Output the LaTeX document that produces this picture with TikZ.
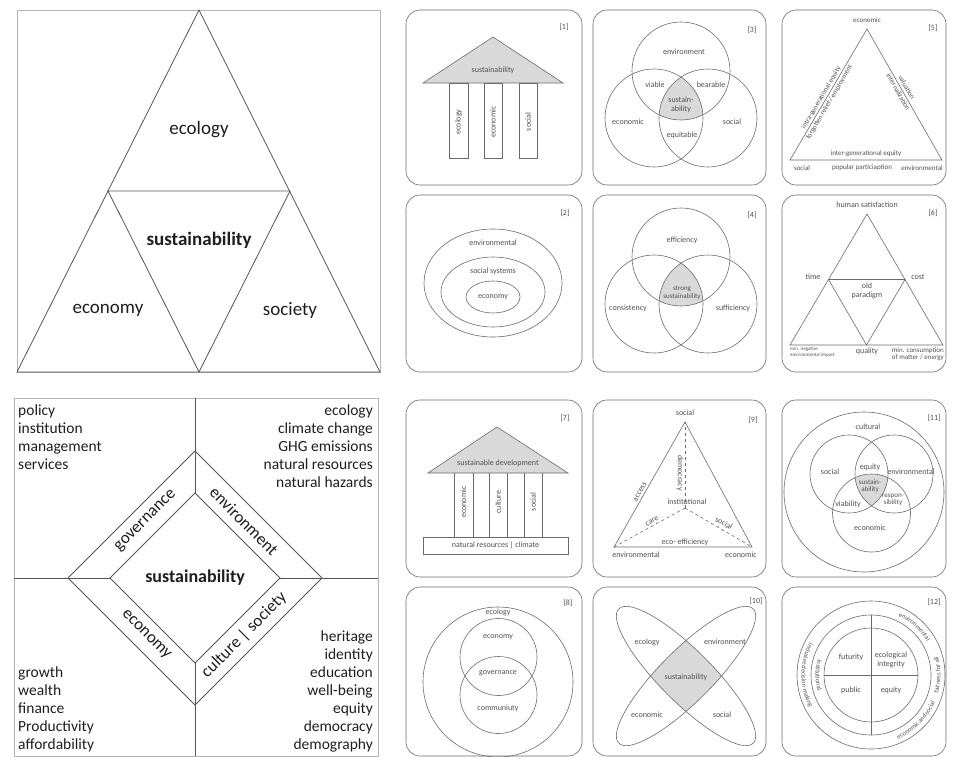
\documentclass[tikz,border=0pt]{standalone}
\usepackage{fontspec}
\setmainfont{Carlito}
\usetikzlibrary{calc,decorations.text}
\definecolor{pline}{HTML}{6A6A6A}
\definecolor{ptext}{HTML}{505050}
\definecolor{shadegray}{HTML}{D9D9D9}
\definecolor{bline}{HTML}{555555}
\definecolor{btext}{HTML}{1E1E1E}
\definecolor{frame}{HTML}{B4B4B4}
\begin{document}
\begin{tikzpicture}[x=1pt,y=-1pt,
  panel/.style={draw=pline, rounded corners=14pt, line width=0.6pt},
  pl/.style={draw=pline, line width=0.6pt},
  pt/.style={text=ptext, font=\fontsize{8}{8.5}\selectfont, inner sep=0pt, align=center},
  ps/.style={text=ptext, font=\fontsize{7}{7.5}\selectfont, inner sep=0pt, align=center},
  pxs/.style={text=ptext, font=\fontsize{5}{5.5}\selectfont, inner sep=0pt, align=left},
  bl/.style={draw=bline, line width=0.8pt},
  bt/.style={text=btext, font=\fontsize{19}{22}\selectfont, inner sep=0pt},
  dt/.style={text=btext, font=\fontsize{17}{20}\selectfont, inner sep=0pt},
  lt/.style={text=btext, font=\fontsize{15.5}{18}\selectfont, inner sep=0pt},
  arctext/.style={decorate, decoration={text along path, text align=center, text={|\fontsize{6.5}{7}\selectfont\color{ptext}|#1}}},
]
\useasboundingbox (0,0) rectangle (955,757);

% ---------- big triangle ----------
\draw[draw=frame, line width=0.6pt] (17,10) rectangle (380,372);
\draw[bl] (199,10) -- (17,372) -- (380,372) -- cycle;
\draw[bl] (108,191) -- (290,191) -- (199,372) -- cycle;
\node[bt] (tEco) at (199,130) {ecology};
\node[bt, font=\fontsize{19}{22}\selectfont\bfseries] (tSus) at (199,240) {sustainability};
\node[bt] (tEcn) at (108,310) {economy};
\node[bt] (tSoc) at (290,310) {society};

% ---------- diamond ----------
\draw[draw=frame, line width=0.6pt] (14,398) rectangle (378,756);
\coordinate (dc) at (195,578);
\draw[bl] (68,578) -- (195,451) -- (322,578) -- (195,705) -- cycle;
\draw[bl] (110,578) -- (195,493) -- (280,578) -- (195,663) -- cycle;
\draw[bl] (195,398) -- (195,493);
\draw[bl] (195,663) -- (195,756);
\draw[bl] (14,578) -- (110,578);
\draw[bl] (280,578) -- (378,578);
\node[dt, font=\fontsize{18}{20}\selectfont\bfseries] (dSus) at (195,578) {sustainability};
\node[dt, rotate=45] (dGov) at (146,521) {governance};
\node[dt, rotate=-45] (dEnv) at (244,521) {environment};
\node[dt, rotate=-45] (dEcn) at (146,635) {economy};
\node[dt, rotate=45] (dCul) at (244,635) {culture | society};
\node[lt, anchor=north west, align=left] (lTL) at (18,405) {policy\\institution\\management\\services};
\node[lt, anchor=north east, align=right] (lTR) at (373,405) {ecology\\climate change\\GHG emissions\\natural resources\\natural hazards};
\node[lt, anchor=south west, align=left] (lBL) at (18,752) {growth\\wealth\\finance\\Productivity\\affordability};
\node[lt, anchor=south east, align=right] (lBR) at (373,752) {heritage\\identity\\education\\well-being\\equity\\democracy\\demography};

% ---------- panel [1] ----------
\draw[panel] (406,10) rectangle (582,185);
\node[pt] (n1) at (564,27) {[1]};
\draw[pl, fill=shadegray] (423,83) -- (493,37) -- (563,83) -- cycle;
\node[pt] (p1s) at (493,70) {sustainability};
\draw[pl] (449,83) rectangle (468,158);
\draw[pl] (484,83) rectangle (502,158);
\draw[pl] (519,83) rectangle (537,158);
\node[pt, rotate=90] (p1a) at (458.5,122) {ecology};
\node[pt, rotate=90] (p1b) at (493,122) {economic};
\node[pt, rotate=90] (p1c) at (528,122) {social};

% ---------- panel [3] ----------
\draw[panel] (593,10) rectangle (766,185);
\node[pt] (n3) at (752,30) {[3]};
\begin{scope}
\clip (681,71) circle[radius=49pt];
\clip (654,118) circle[radius=49pt];
\fill[shadegray] (708,118) circle[radius=49pt];
\end{scope}
\draw[pl] (681,71) circle[radius=49pt];
\draw[pl] (654,118) circle[radius=49pt];
\draw[pl] (708,118) circle[radius=49pt];
\node[pt] (p3a) at (684,52) {environment};
\node[pt] (p3b) at (655,85) {viable};
\node[pt] (p3c) at (711,85) {bearable};
\node[pt] (p3d) at (681,105) {sustain-\\ability};
\node[pt] (p3e) at (628,122) {economic};
\node[pt] (p3f) at (732,122) {social};
\node[pt] (p3g) at (682,135) {equitable};

% ---------- panel [5] ----------
\draw[panel] (782,10) rectangle (946,185);
\node[pt] (n5) at (933,28) {[5]};
\draw[pl] (867,29) -- (790,160) -- (942,160) -- cycle;
\node[ps] (p5a) at (867,20) {economic};
\node[ps] (p5b) at (802,168) {social};
\node[ps] (p5c) at (862,168) {popular particiaption};
\node[ps] (p5d) at (922,168) {environmental};
\node[ps] (p5e) at (866,154) {inter-generational equity};
\node[ps, rotate=59.6] (p5f) at (821.4,97.7) {intra-generational equity};
\node[ps, rotate=59.6] (p5g) at (829.4,102.4) {forgotten relief / employment};
\node[ps, rotate=-60.2] (p5h) at (906.7,87.3) {valuation};
\node[ps, rotate=-60.2] (p5i) at (898.4,92) {internalization};

% ---------- panel [2] ----------
\draw[panel] (406,195) rectangle (582,372);
\node[pt] (n2) at (565,213) {[2]};
\draw[pl] (493,283) ellipse[x radius=69pt, y radius=54pt];
\draw[pl] (493,292) ellipse[x radius=52pt, y radius=35pt];
\draw[pl] (493,297) ellipse[x radius=27pt, y radius=16pt];
\node[pt] (p2a) at (493,243) {environmental};
\node[pt] (p2b) at (493,271) {social systems};
\node[pt] (p2c) at (493,297) {economy};

% ---------- panel [4] ----------
\draw[panel] (593,195) rectangle (766,372);
\node[pt] (n4) at (752,215) {[4]};
\begin{scope}
\clip (681,257) circle[radius=49pt];
\clip (654,304) circle[radius=49pt];
\fill[shadegray] (708,304) circle[radius=49pt];
\end{scope}
\draw[pl] (681,257) circle[radius=49pt];
\draw[pl] (654,304) circle[radius=49pt];
\draw[pl] (708,304) circle[radius=49pt];
\node[pt] (p4a) at (682,240) {efficiency};
\node[ps] (p4b) at (682,293) {strong\\sustainability};
\node[pt] (p4c) at (628,308) {consistency};
\node[pt] (p4d) at (733,308) {sufficiency};

% ---------- panel [6] ----------
\draw[panel] (782,195) rectangle (946,372);
\node[pt] (n6) at (933,213) {[6]};
\draw[pl] (867,214) -- (790,345) -- (943,345) -- cycle;
\draw[pl] (828.5,279.5) -- (905,279.5) -- (866.5,345) -- cycle;
\node[pt] (p6a) at (867,205) {human satisfaction};
\node[pt] (p6b) at (813,277) {time};
\node[pt] (p6c) at (918,277) {cost};
\node[pt] (p6d) at (867,291) {old\\paradigm};
\node[pt] (p6e) at (867,351) {quality};
\node[pxs, anchor=north west] (p6f) at (790,347) {min. negative\\environmental impact};
\node[ps, anchor=north east, align=right] (p6g) at (944,347) {min. consumption\\of matter / energy};

% ---------- panel [7] ----------
\draw[panel] (406,400) rectangle (582,577);
\node[pt] (n7) at (565,418) {[7]};
\draw[pl, fill=shadegray] (428,473) -- (497,427) -- (568,473) -- cycle;
\node[pt] (p7s) at (498,463) {sustainable development};
\foreach \xx in {454,473,489,507,524,542} \draw[pl] (\xx,473) -- (\xx,537);
\draw[pl] (423,537) rectangle (568,554);
\node[pt] (p7b) at (495.5,545.5) {natural resources | climate};
\node[pt, rotate=90] (p7c) at (463.5,502) {economic};
\node[pt, rotate=90] (p7d) at (498,502) {culture};
\node[pt, rotate=90] (p7e) at (533,502) {social};

% ---------- panel [9] ----------
\draw[panel] (593,400) rectangle (766,577);
\node[pt] (n9) at (753,420) {[9]};
\coordinate (t9) at (685,422);
\coordinate (l9) at (614,547);
\coordinate (r9) at (752,547);
\coordinate (j9) at (685,508);
\draw[pl] (t9) -- (l9) -- (r9) -- cycle;
\draw[pl, dashed] (j9) -- (t9);
\draw[pl, dashed] (j9) -- (l9);
\draw[pl, dashed] (j9) -- (r9);
\node[pt] (p9a) at (685,413) {social};
\node[pt] (p9b) at (636,555) {environmental};
\node[pt] (p9c) at (741,555) {economic};
\node[pt, rotate=60.4] (p9d) at (640,492) {access};
\node[pt, rotate=-90] (p9e) at (680,473) {democracy};
\node[pt] (p9f) at (687,502) {institutional};
\node[pt, rotate=28.8] (p9g) at (652,521) {care};
\node[pt, rotate=-28.8] (p9h) at (724,523) {social};
\node[pt] (p9i) at (685,542) {eco- efficiency};

% ---------- panel [11] ----------
\draw[panel] (782,400) rectangle (946,577);
\node[pt] (n11) at (934,418) {[11]};
\draw[pl] (864,492) circle[radius=80pt];
\begin{scope}
\clip (849,474) circle[radius=39pt];
\clip (894,474) circle[radius=39pt];
\fill[shadegray] (871.5,513) circle[radius=39pt];
\end{scope}
\draw[pl] (849,474) circle[radius=39pt];
\draw[pl] (894,474) circle[radius=39pt];
\draw[pl] (871.5,513) circle[radius=39pt];
\node[pt] (p11a) at (868,427) {cultural};
\node[pt] (p11b) at (830,472) {social};
\node[pt] (p11c) at (870,467) {equity};
\node[pt] (p11d) at (911,472) {environmental};
\node[ps] (p11e) at (870,486) {sustain-\\ability};
\node[pt] (p11f) at (848,504) {viability};
\node[ps] (p11g) at (893,500) {respon-\\sibility};
\node[pt] (p11h) at (870,528) {economic};

% ---------- panel [8] ----------
\draw[panel] (406,587) rectangle (582,756);
\node[pt] (n8) at (568,603) {[8]};
\draw[pl] (498,682) circle[radius=75pt];
\draw[pl] (498.5,657) circle[radius=38.5pt];
\draw[pl] (498.5,695) circle[radius=38.5pt];
\node[pt] (p8a) at (498,612) {ecology};
\node[pt] (p8b) at (498,637) {economy};
\node[pt] (p8c) at (498,673) {governance};
\node[pt] (p8d) at (498,708) {communiuty};

% ---------- panel [10] ----------
\draw[panel] (593,587) rectangle (766,756);
\node[pt] (n10) at (756,601) {[10]};
\coordinate (c10) at (686,676);
\begin{scope}
\clip[rotate around={45:(c10)}] (c10) ellipse[x radius=95pt, y radius=26pt];
\fill[shadegray, rotate around={-45:(c10)}] (c10) ellipse[x radius=95pt, y radius=26pt];
\end{scope}
\draw[pl, rotate around={45:(c10)}] (c10) ellipse[x radius=95pt, y radius=26pt];
\draw[pl, rotate around={-45:(c10)}] (c10) ellipse[x radius=95pt, y radius=26pt];
\node[pt] (p10a) at (647,642) {ecology};
\node[pt] (p10b) at (725,642) {environment};
\node[pt] (p10c) at (686,677) {sustainability};
\node[pt] (p10d) at (647,715) {economic};
\node[pt] (p10e) at (722,715) {social};

% ---------- panel [12] ----------
\draw[panel] (782,587) rectangle (946,756);
\node[pt] (n12) at (934,602) {[12]};
\coordinate (c12) at (871,675);
\draw[pl] (c12) circle[radius=74pt];
\draw[pl] (c12) circle[radius=60pt];
\draw[pl] (c12) circle[radius=47pt];
\draw[pl] (871,615) -- (871,735);
\draw[pl] (824,675) -- (918,675);
\node[pt] (p12a) at (851,657) {futurity};
\node[pt] (p12b) at (891,660) {ecological\\integrity};
\node[pt] (p12c) at (851,690) {public};
\node[pt] (p12d) at (891,690) {equity};
\path[arctext={inclusive{ }decision{ }making}]
  ($(c12)+(120:69.5pt)$) arc[start angle=120, end angle=240, radius=69.5pt];
\path[arctext={institutional}]
  ($(c12)+(125:55.5pt)$) arc[start angle=125, end angle=235, radius=55.5pt];
\path[arctext={environmental}]
  ($(c12)+(78:65pt)$) arc[start angle=78, end angle=18, radius=65pt];
\path[arctext={fairness{ }for{ }all}]
  ($(c12)+(-30:69.5pt)$) arc[start angle=-30, end angle=30, radius=69.5pt];
\path[arctext={economic{ }and{ }social}]
  ($(c12)+(-85:69.5pt)$) arc[start angle=-85, end angle=-5, radius=69.5pt];
\end{tikzpicture}
\end{document}
